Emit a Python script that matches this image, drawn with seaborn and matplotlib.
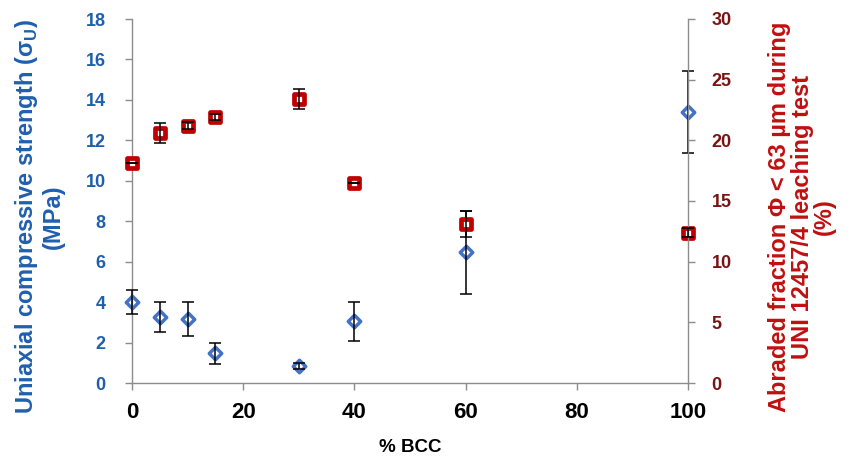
import matplotlib
matplotlib.use("Agg")
import matplotlib.pyplot as plt
import seaborn as sns
import numpy as np
import pandas as pd

# ---- data ----
bcc = [0, 5, 10, 15, 30, 40, 60, 100]
ucs = [4.0, 3.27, 3.16, 1.48, 0.86, 3.05, 6.47, 13.4]
ucs_err = [0.6, 0.75, 0.85, 0.52, 0.15, 0.95, 2.05, 2.05]
abraded = [18.1, 20.6, 21.2, 21.9, 23.4, 16.5, 13.1, 12.4]
abraded_err = [0.0, 0.8, 0.3, 0.25, 0.8, 0.0, 1.1, 0.4]
xticks = [0, 20, 40, 60, 80, 100]
yticks_left = [0, 2, 4, 6, 8, 10, 12, 14, 16, 18]
yticks_right = [0, 5, 10, 15, 20, 25, 30]

sns.set_style("white")
plt.rcParams["font.family"] = ["Liberation Sans", "DejaVu Sans"]
plt.rcParams["mathtext.fontset"] = "custom"
plt.rcParams["mathtext.rm"] = "Liberation Sans:bold"
plt.rcParams["mathtext.bf"] = "Liberation Sans:bold"

BLUE = "#4472C4"
BLUE_TXT = "#1F5FAE"
RED = "#C00000"
RED_TXT = "#7A1414"
RED_LBL = "#C01010"
AX_C = "#8C8C8C"

df = pd.DataFrame({"bcc": bcc, "ucs": ucs, "ucs_err": ucs_err,
                   "abr": abraded, "abr_err": abraded_err})

fig = plt.figure(figsize=(8.54, 4.59), dpi=100)
ax = fig.add_axes([132/854, 1-383/459, (688-132)/854, (383-19)/459])
ax2 = ax.twinx()

ax.errorbar(df["bcc"], df["ucs"], yerr=df["ucs_err"], fmt="none", ecolor="black",
            elinewidth=1.1, capsize=4, capthick=1.1, zorder=3, clip_on=False)
sns.scatterplot(data=df, x="bcc", y="ucs", ax=ax, marker="D", s=40,
                facecolor="white", edgecolor=BLUE, linewidth=2.5, zorder=2, clip_on=False)

sns.scatterplot(data=df, x="bcc", y="abr", ax=ax2, marker="s", s=45,
                facecolor="white", edgecolor=RED, linewidth=3.4, zorder=2, clip_on=False)
ax2.errorbar(df["bcc"], df["abr"], yerr=df["abr_err"], fmt="none", ecolor="black",
             elinewidth=1.1, capsize=4, capthick=1.1, zorder=3, clip_on=False)

ax.set_xlim(0, 100)
ax.set_ylim(0, 18)
ax2.set_ylim(0, 30)
ax.set_xticks(xticks)
ax.set_yticks(yticks_left)
ax2.set_yticks(yticks_right)

for a in (ax, ax2):
    for s in a.spines.values():
        s.set_color(AX_C)
        s.set_linewidth(1.0)
    a.spines["top"].set_visible(False)

ax.spines["right"].set_visible(False)
ax2.spines["left"].set_visible(False)
ax2.spines["bottom"].set_visible(False)

ax.tick_params(axis="x", direction="out", length=5, width=1, color=AX_C,
               labelcolor="black", pad=9, bottom=True)
ax.tick_params(axis="y", direction="out", length=5, width=1, color=AX_C,
               labelsize=13, labelcolor=BLUE_TXT, pad=14, left=True)
ax2.tick_params(axis="y", direction="out", length=5, width=1, color=AX_C,
                labelsize=13, labelcolor=RED_TXT, pad=12, right=True)
for lbl in ax.get_yticklabels() + ax2.get_yticklabels():
    lbl.set_fontweight("bold")
for lbl in ax.get_xticklabels():
    lbl.set_fontweight("bold")
    lbl.set_fontsize(16)

ax.set_xlabel("% BCC", fontsize=13.5, fontweight="bold", color="black", labelpad=11)
ax.set_ylabel("Uniaxial compressive strength (σ$_{\\mathbf{U}}$)\n(MPa)", fontsize=17,
              fontweight="bold", color=BLUE_TXT, linespacing=1.1)
ax.yaxis.set_label_coords(-0.12, 0.456)
ax2.set_ylabel("Abraded fraction Φ < 63 µm during\nUNI 12457/4 leaching test\n(%)",
               fontsize=17, fontweight="bold", color=RED_LBL, rotation=90,
               linespacing=0.98)
ax2.yaxis.set_label_coords(1.144, 0.456)

fig.savefig("out.png", dpi=100, facecolor="white")
